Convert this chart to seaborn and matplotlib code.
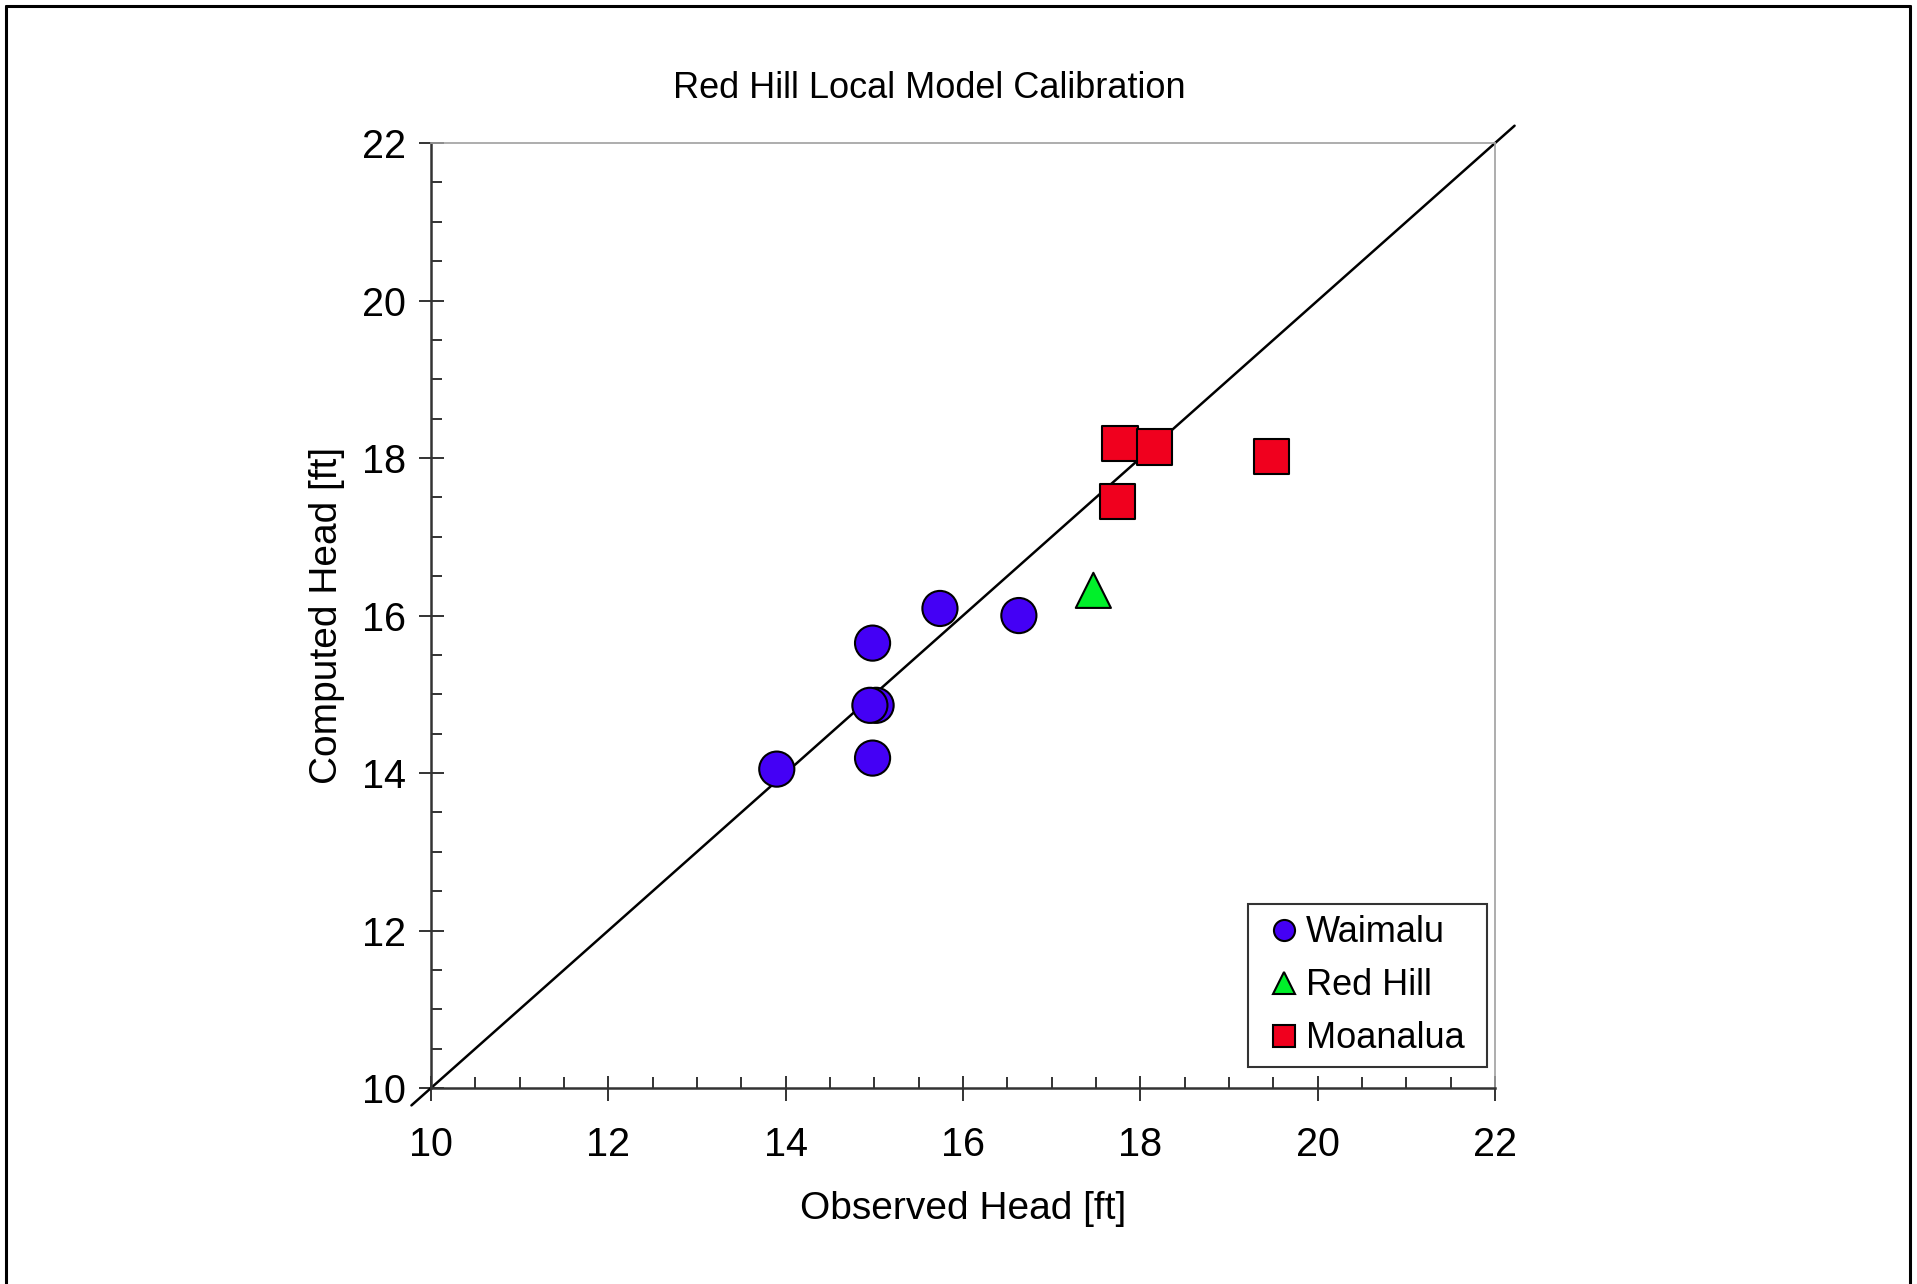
import matplotlib
matplotlib.use("Agg")
import matplotlib.pyplot as plt
from matplotlib.lines import Line2D
import seaborn as sns
import pandas as pd
import numpy as np

# --- data ---
waimalu_obs = [15.02, 13.90, 14.98, 14.95, 14.98, 15.74, 16.63]
waimalu_comp = [14.86, 14.05, 14.19, 14.86, 15.65, 16.09, 16.00]
redhill_obs = [17.47]
redhill_comp = [16.32]
moanalua_obs = [17.77, 18.16, 17.74, 19.48]
moanalua_comp = [18.18, 18.14, 17.45, 18.02]
groups = ["Waimalu", "Red Hill", "Moanalua"]
one_to_one = [9.78, 22.22]

df = pd.DataFrame({
    "observed": waimalu_obs + redhill_obs + moanalua_obs,
    "computed": waimalu_comp + redhill_comp + moanalua_comp,
    "well": ["Waimalu"] * len(waimalu_obs) + ["Red Hill"] * len(redhill_obs)
            + ["Moanalua"] * len(moanalua_obs),
})

sns.set_theme(style="white")
plt.rcParams["font.family"] = ["Liberation Sans", "DejaVu Sans"]
plt.rcParams["text.color"] = "black"
plt.rcParams["axes.labelcolor"] = "black"

fig = plt.figure(figsize=(19.17, 12.84), dpi=100)
ax = fig.add_axes([0.2248, 0.1526, 0.5551, 0.7360])

# 1:1 line, runs a bit past the frame like the original
ax.plot(one_to_one, one_to_one, color="black", lw=1.8, clip_on=False, zorder=2)

palette = {"Waimalu": "#4400f5", "Red Hill": "#00f02a", "Moanalua": "#f0001e"}
markers = {"Waimalu": "o", "Red Hill": "^", "Moanalua": "s"}
sns.scatterplot(data=df, x="observed", y="computed", hue="well", style="well",
                hue_order=groups, style_order=groups, palette=palette,
                markers=markers, s=640, edgecolor="black", linewidth=1.5,
                ax=ax, zorder=3, legend=True)

ax.set_xlim(10, 22)
ax.set_ylim(10, 22)
ax.set_xticks(np.arange(10, 23, 2))
ax.set_yticks(np.arange(10, 23, 2))
ax.set_xticks(np.arange(10, 22.01, 0.5), minor=True)
ax.set_yticks(np.arange(10, 22.01, 0.5), minor=True)

for side in ["left", "bottom"]:
    ax.spines[side].set_color("#333333")
    ax.spines[side].set_linewidth(1.8)
for side in ["top", "right"]:
    ax.spines[side].set_color("#a0a0a0")
    ax.spines[side].set_linewidth(1.2)

ax.tick_params(which="major", direction="inout", length=18, width=1.4,
               color="#333333", labelcolor="black", labelsize=28.5,
               bottom=True, left=True)
ax.tick_params(axis="x", which="major", pad=18)
ax.tick_params(axis="y", which="major", pad=9)
ax.tick_params(which="minor", direction="in", length=8, width=1.4,
               color="#333333", bottom=True, left=True)

ax.set_xlabel("Observed Head [ft]", fontsize=28, labelpad=20)
ax.set_ylabel("Computed Head [ft]", fontsize=28, labelpad=12)
fig.text(0.4846, 0.931, "Red Hill Local Model Calibration", fontsize=26,
         ha="center", va="center")

# legend box stretched to the width of the original one
handles, labels = ax.get_legend_handles_labels()
leg = ax.legend(handles, labels, loc="lower left", mode="expand",
                bbox_to_anchor=(0.768, 0.022, 0.2245, 0.17), fontsize=26,
                markerscale=0.6, handlelength=1.37, handletextpad=-0.07,
                labelspacing=0.5, borderpad=0.3, borderaxespad=0,
                frameon=True, fancybox=False, edgecolor="black")
leg.get_frame().set_linewidth(1.5)

# outer frame (left, top, right) as in the scanned figure
W, H = 1917, 1284
for xs, ys in [([6 / W, 6 / W], [0, 1 - 6 / H]),
               ([6 / W, 1910 / W], [1 - 6 / H, 1 - 6 / H]),
               ([1910 / W, 1910 / W], [0, 1 - 6 / H])]:
    fig.add_artist(Line2D(xs, ys, color="black", lw=2.2, transform=fig.transFigure))

fig.savefig("out.png", dpi=100)
